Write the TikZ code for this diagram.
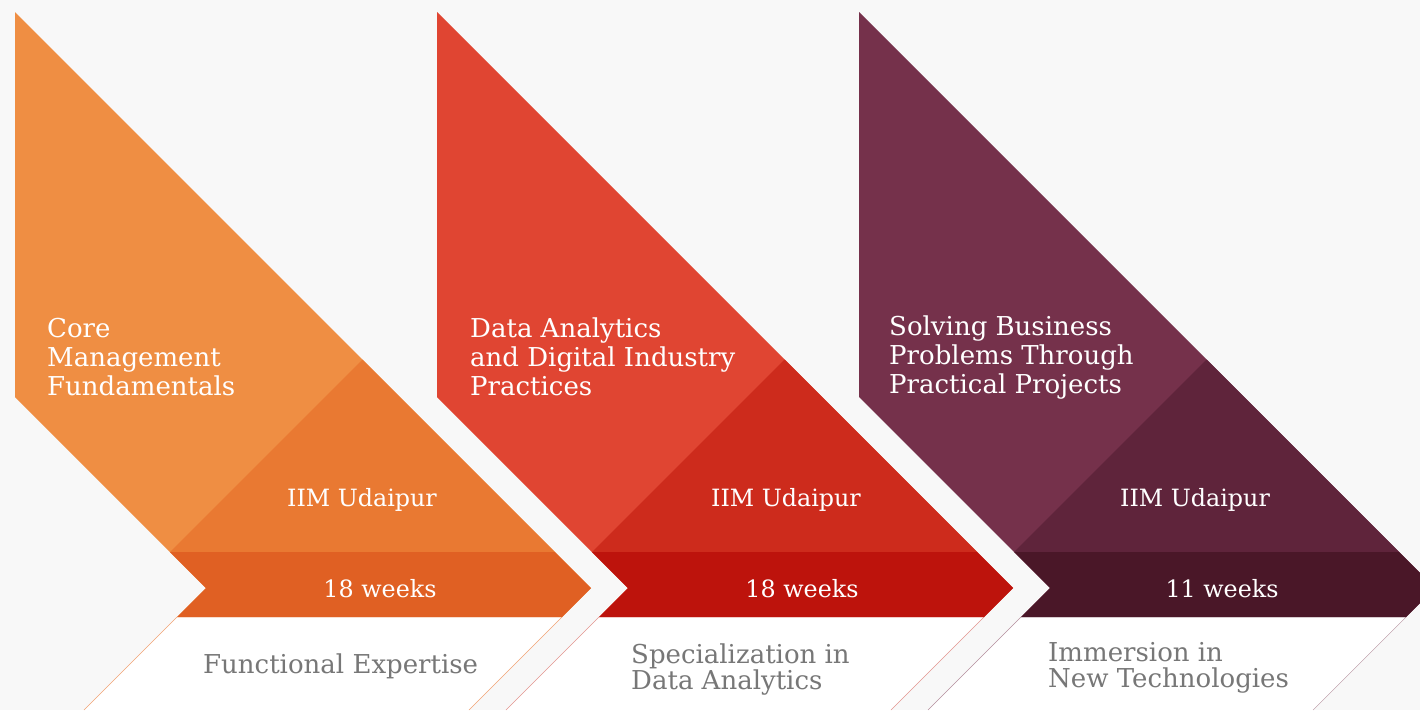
\documentclass[tikz,border=0pt]{standalone}
\usepackage{fontspec}
\setmainfont{DejaVu Serif}
\definecolor{bgcol}{HTML}{F8F8F8}
\definecolor{subgray}{HTML}{777777}
\definecolor{headora}{HTML}{EF8E43}
\definecolor{triora}{HTML}{E97932}
\definecolor{bandora}{HTML}{E06023}
\definecolor{lineora}{HTML}{F2A273}
\definecolor{headred}{HTML}{E04532}
\definecolor{trired}{HTML}{CD2B1C}
\definecolor{bandred}{HTML}{BD130C}
\definecolor{linered}{HTML}{E3958F}
\definecolor{headpur}{HTML}{75314B}
\definecolor{tripur}{HTML}{5F243B}
\definecolor{bandpur}{HTML}{4A1728}
\definecolor{linepur}{HTML}{B48E9C}
\tikzset{
    headtext/.style={text=white,anchor=base west,align=left,inner sep=0pt,
        font=\fontsize{26}{29}\selectfont},
    bandtext/.style={text=white,anchor=base,inner sep=0pt,
        font=\fontsize{23.8}{29}\selectfont},
    subtext/.style={text=subgray,anchor=base west,align=left,inner sep=0pt,
        font=\fontsize{26}{26}\selectfont},
}

\begin{document}
\begin{tikzpicture}[x=1pt,y=-1pt]
    \clip (0,0) rectangle (1420,710);
    \fill[bgcol] (0,0) rectangle (1420,710);
    \foreach \i/\c in {0/ora,1/red,2/pur}{
        \begin{scope}[xshift={422*\i pt}]
            \fill[white] (177,617)--(562,617)--(469,710)--(84,710)--cycle;
            \draw[line\c] (177,617)--(84,710);
            \draw[line\c] (562,617)--(469,710);
            \fill[head\c] (15,12)--(591,588)--(562,617)--(177,617)--(206,588)--(15,397)--cycle;
            \fill[tri\c] (170,552)--(362.5,359.5)--(555,552)--cycle;
            \fill[band\c] (170,552)--(555,552)--(591,588)--(562,617)--(177,617)--(206,588)--cycle;
        \end{scope}
    }
    % multi-line texts: base = last line
    \node[headtext] (head0) at (47,395) {Core\\Management\\Fundamentals};
    \node[headtext] (head1) at (470,395) {Data Analytics\\and Digital Industry\\Practices};
    \node[headtext] (head2) at (889,393) {Solving Business\\Problems Through\\Practical Projects};
    \foreach \i/\ux/\wx/\w in {0/362/380/18,1/786/802/18,2/1195/1222/11}{
        \node[bandtext] (uni\i) at (\ux,506) {IIM Udaipur};
        \node[bandtext] (weeks\i) at (\wx,597) {\w{} weeks};
    }
    \node[subtext] (sub0) at (203,673) {Functional Expertise};
    \node[subtext] (sub1) at (631,689) {Specialization in\\Data Analytics};
    \node[subtext] (sub2) at (1048,687) {Immersion in\\New Technologies};
\end{tikzpicture}
\end{document}
